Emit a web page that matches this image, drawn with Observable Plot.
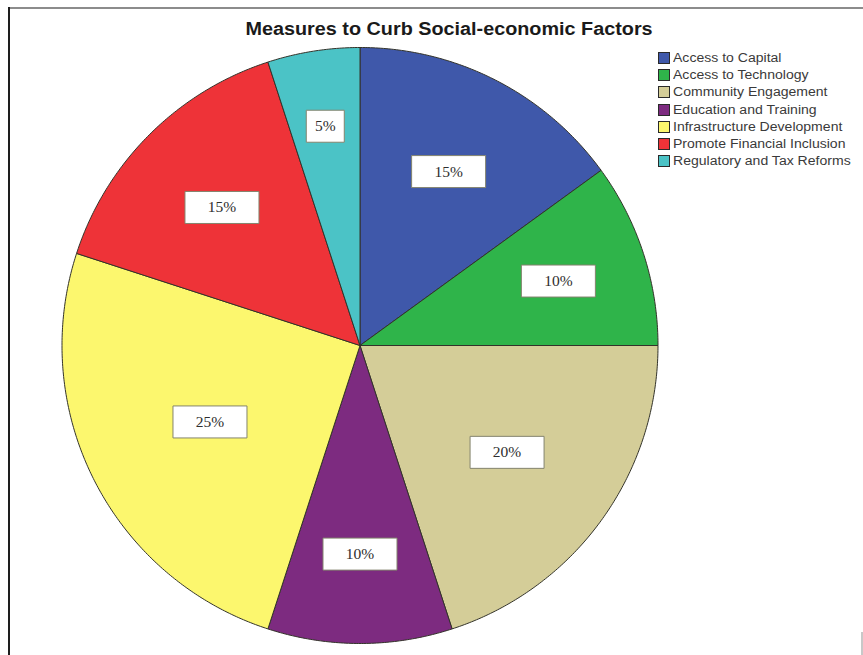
<!DOCTYPE html>
<html>
<head>
<meta charset="utf-8">
<script src="https://cdn.jsdelivr.net/npm/d3@7"></script>
<script src="https://cdn.jsdelivr.net/npm/@observablehq/plot@0.6"></script>
<style>
  html, body { margin: 0; padding: 0; background: #fff; }
  #wrap { position: relative; width: 863px; height: 655px; overflow: hidden; background: #fff; }
  #frameTop { position: absolute; left: 8px; top: 7px; width: 855px; height: 0; border-top: 2px solid #8c8c8c; }
  #frameLeft { position: absolute; left: 8px; top: 7px; width: 0; height: 648px; border-left: 2px solid #1e1e1e; }
  #frameMark { position: absolute; left: 861px; top: 632px; width: 0; height: 23px; border-left: 2px solid #c8c8c8; }
  #title { position: absolute; left: 243px; top: 19px; width: 412px; text-align: center;
           font-family: "Liberation Sans", Arial, sans-serif; font-weight: bold; font-size: 18px; color: #1a1a1a;
           white-space: nowrap; }
  #title span { display: inline-block; transform: scaleX(1.1); transform-origin: center; }
  #legend { position: absolute; left: 658px; top: 49px; font-family: "Liberation Sans", Arial, sans-serif;
            font-size: 12px; color: #3a3a3a; }
  .row { height: 17.3px; display: flex; align-items: center; white-space: nowrap; }
  .sw { width: 12px; height: 12px; border: 1px solid #2a2a2a; box-sizing: border-box; margin-right: 3px; flex: none; }
  .lt { display: inline-block; transform: scaleX(1.17); transform-origin: left center; }
  #chart { position: absolute; left: 0; top: 0; }
</style>
</head>
<body>
<div id="wrap">
  <div id="chart"></div>
  <div id="frameTop"></div>
  <div id="frameLeft"></div>
  <div id="frameMark"></div>
  <div id="title"><span>Measures to Curb Social-economic Factors</span></div>
  <div id="legend"></div>
</div>
<script>
const categories = [
  "Access to Capital",
  "Access to Technology",
  "Community Engagement",
  "Education and Training",
  "Infrastructure Development",
  "Promote Financial Inclusion",
  "Regulatory and Tax Reforms"
];
const shares = [15, 10, 20, 10, 25, 15, 5];
const labels = ["15%", "10%", "20%", "10%", "25%", "15%", "5%"];
const colors = ["#3f58aa", "#2fb44a", "#d4cd98", "#7d2b80", "#fcf76e", "#ee3338", "#4bc3c6"];

const W = 863, H = 655;
const cx = 359.5, cy = 345, R = 298;

// Build slice polygons (clockwise from 12 o'clock) in unit-circle coordinates
const total = d3.sum(shares);
const polys = [];
const labelData = [];
let acc = 0;
shares.forEach((v, i) => {
  const a0 = acc / total * 2 * Math.PI;
  acc += v;
  const a1 = acc / total * 2 * Math.PI;
  const cat = categories[i];
  polys.push({cat, x: 0, y: 0});
  const n = Math.max(2, Math.ceil((a1 - a0) / (Math.PI / 360)));
  for (let k = 0; k <= n; k++) {
    const a = a0 + (a1 - a0) * k / n;
    polys.push({cat, x: Math.sin(a), y: Math.cos(a)});
  }
  polys.push({cat, x: 0, y: 0});
  const am = (a0 + a1) / 2;
  const rf = 0.79 - 0.9 * v / total;
  labelData.push({cat, text: labels[i], x: rf * Math.sin(am), y: rf * Math.cos(am), short: labels[i].length < 3});
});

const boxSymbol = (w, h) => ({ draw(ctx) { ctx.rect(-w / 2, -h / 2, w, h); } });

const chart = Plot.plot({
  width: W,
  height: H,
  margin: 0,
  x: {domain: [-cx / R, (W - cx) / R], axis: null},
  y: {domain: [-(H - cy) / R, cy / R], axis: null},
  color: {domain: categories, range: colors},
  marks: [
    Plot.line(polys, {x: "x", y: "y", z: "cat", fill: "cat", stroke: "#33332a", strokeWidth: 1, strokeLinejoin: "round"}),
    Plot.dot(labelData.filter(d => !d.short), {x: "x", y: "y", symbol: boxSymbol(74, 32), fill: "#ffffff", stroke: "#84846e", strokeWidth: 1}),
    Plot.dot(labelData.filter(d => d.short), {x: "x", y: "y", symbol: boxSymbol(38, 32), fill: "#ffffff", stroke: "#84846e", strokeWidth: 1}),
    Plot.text(labelData, {x: "x", y: "y", text: "text", fontFamily: "Liberation Serif, Times New Roman, serif", fontSize: 15.5, fill: "#2e2e2e"})
  ]
});
document.getElementById("chart").appendChild(chart);

const legend = document.getElementById("legend");
categories.forEach((c, i) => {
  const row = document.createElement("div");
  row.className = "row";
  const sw = document.createElement("div");
  sw.className = "sw";
  sw.style.background = colors[i];
  const t = document.createElement("span");
  t.className = "lt";
  t.textContent = c;
  row.appendChild(sw);
  row.appendChild(t);
  legend.appendChild(row);
});
</script>
</body>
</html>
